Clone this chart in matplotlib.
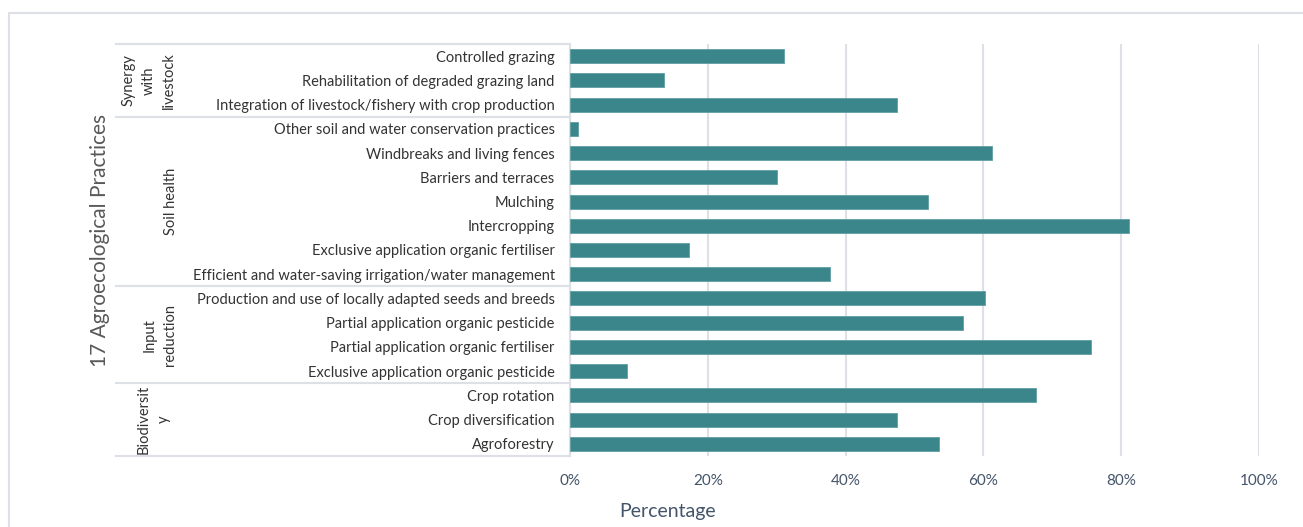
import matplotlib.pyplot as plt
from matplotlib.patches import Rectangle
import matplotlib.transforms as mtransforms
import matplotlib.ticker as ticker

# practices listed bottom to top
practices = [
    "Agroforestry",
    "Crop diversification",
    "Crop rotation",
    "Exclusive application organic pesticide",
    "Partial application organic fertiliser",
    "Partial application organic pesticide",
    "Production and use of locally adapted seeds and breeds",
    "Efficient and water-saving irrigation/water management",
    "Exclusive application organic fertiliser",
    "Intercropping",
    "Mulching",
    "Barriers and terraces",
    "Windbreaks and living fences",
    "Other soil and water conservation practices",
    "Integration of livestock/fishery with crop production",
    "Rehabilitation of degraded grazing land",
    "Controlled grazing",
]
share = [0.535, 0.474, 0.677, 0.083, 0.756, 0.571, 0.602,
         0.378, 0.172, 0.812, 0.519, 0.301, 0.612, 0.011,
         0.474, 0.136, 0.311]

groups = ["Biodiversit\ny", "Input\nreduction", "Soil health", "Synergy\nwith\nlivestock"]
group_sizes = [3, 4, 7, 3]

xticks = [0, 0.2, 0.4, 0.6, 0.8, 1.0]

bar_color = "#3A868A"
grid_color = "#DDE1E7"
slate = "#44546A"
label_color = "#333333"

plt.rcParams['font.family'] = ['Lato', 'DejaVu Sans']

W, H = 1303, 527
fig = plt.figure(figsize=(W / 100, H / 100), dpi=100)
ax = fig.add_axes([570 / W, 1 - 456 / H, (1259 - 570) / W, (456 - 44) / H])

y = list(range(len(practices)))
ax.barh(y, share, height=0.58, color=bar_color, edgecolor="#5E9FA3", linewidth=0.6, zorder=3)

ax.set_xlim(0, 1.0)
ax.set_ylim(-0.5, len(practices) - 0.5)
ax.set_xticks(xticks)
ax.xaxis.set_major_formatter(ticker.PercentFormatter(1.0, decimals=0))
ax.grid(axis='x', color=grid_color, linewidth=1.5, zorder=0)
ax.set_axisbelow(True)

ax.set_yticks(y)
ax.set_yticklabels(practices, fontsize=10.5, color=label_color)
ax.tick_params(axis='y', length=0, pad=11)
ax.tick_params(axis='x', length=0, pad=13, labelsize=11, labelcolor=slate)

for side in ['top', 'right', 'bottom']:
    ax.spines[side].set_visible(False)
ax.spines['left'].set_color(grid_color)
ax.spines['left'].set_linewidth(1.5)

# group brackets on the category axis
trans = mtransforms.blended_transform_factory(ax.transAxes, ax.transData)
x_left = (116 - 570) / (1259 - 570)
group_x = [154, 160, 171, 149]
start = -0.5
ax.plot([x_left, 0], [start, start], transform=trans, color=grid_color, lw=1.5, clip_on=False)
for name, n, gx in zip(groups, group_sizes, group_x):
    end = start + n
    ax.plot([x_left, 0], [end, end], transform=trans, color=grid_color, lw=1.5, clip_on=False)
    ax.text((gx - 570) / (1259 - 570), (start + end) / 2, name, transform=trans,
            rotation=90, ha='center', va='center', multialignment='center',
            fontsize=10.5, color=label_color, linespacing=1.55)
    start = end

fig.text(100 / W, 1 - 240 / H, "17 Agroecological Practices", rotation=90,
         ha='center', va='center', fontsize=15, color="#595959")
fig.text(668 / W, 1 - 512 / H, "Percentage", ha='center', va='center',
         fontsize=14, color=slate)

# chart frame
fig.patches.append(Rectangle((9 / W, -0.1), 1.2, 1 - 13 / H + 0.1, transform=fig.transFigure,
                             fill=False, edgecolor=grid_color, linewidth=1.5))

fig.savefig("out.png", dpi=100)
